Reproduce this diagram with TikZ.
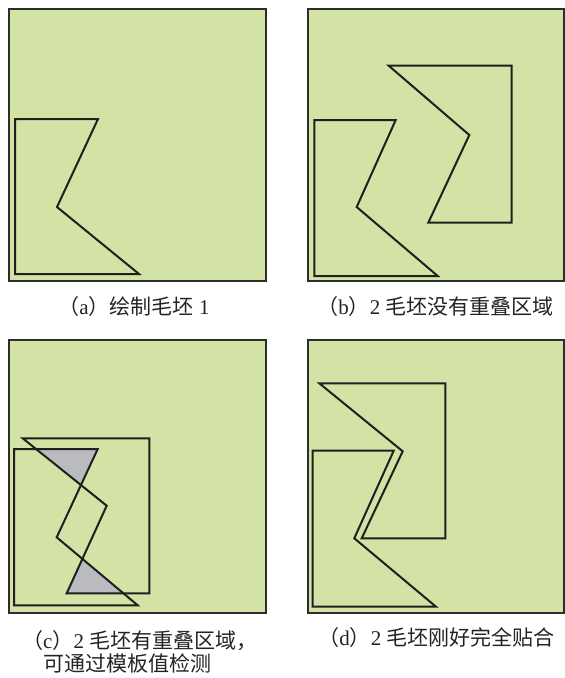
\documentclass[tikz,border=0pt]{standalone}
\usepackage{fontspec}
\setmainfont{Liberation Serif}
\newfontfamily\cjk{Noto Sans CJK SC}
\definecolor{panelgreen}{RGB}{211,227,165}
\definecolor{overlapgray}{RGB}{186,187,191}
\definecolor{frameline}{RGB}{45,45,45}
\definecolor{captiontext}{RGB}{35,35,35}
\tikzset{
  panel/.style={fill=panelgreen, draw=frameline, line width=2pt},
  blank/.style={draw=black!88, line width=2pt, line join=miter},
  caption/.style={text=captiontext, font=\fontsize{21}{25}\selectfont, inner sep=0pt},
}
\begin{document}
\begin{tikzpicture}[x=1pt,y=-1pt]
\useasboundingbox (0,0) rectangle (565,678);
% panel (a)
\draw[panel] (9,9) rectangle (265.5,281);
\draw[blank] (15,119) -- (98,119) -- (57,207) -- (139,274) -- (15,274) -- cycle;
\node[caption] (capa) at (134,307) {{\cjk （}a{\cjk ）绘制毛坯} 1};
% panel (b)
\draw[panel] (308,9) rectangle (564,281);
\draw[blank] (314.3,120) -- (395.7,120) -- (356.7,207) -- (437.7,276) -- (314.3,276) -- cycle;
\draw[blank] (388.7,65.7) -- (511.7,65.7) -- (511.7,222.7) -- (428.3,222.7) -- (469.3,135) -- cycle;
\node[caption] (capb) at (435.5,307) {{\cjk （}b{\cjk ）}2 {\cjk 毛坯没有重叠区域}};
% panel (c)
\draw[panel] (9,339.5) rectangle (265.5,612.5);
\begin{scope}
  \clip (14,449) -- (97.7,449) -- (56.7,537.3) -- (137.7,605.3) -- (14,605.3) -- cycle;
  \fill[overlapgray] (22.7,438.3) -- (149.3,438.3) -- (149.3,593.3) -- (66.7,593.3) -- (106.7,505.7) -- cycle;
\end{scope}
\draw[blank] (14,449) -- (97.7,449) -- (56.7,537.3) -- (137.7,605.3) -- (14,605.3) -- cycle;
\draw[blank] (22.7,438.3) -- (149.3,438.3) -- (149.3,593.3) -- (66.7,593.3) -- (106.7,505.7) -- cycle;
\node[caption, anchor=west] (capc1) at (22,641) {{\cjk （}c{\cjk ）}2 {\cjk 毛坯有重叠区域，}};
\node[caption, anchor=west] (capc2) at (43,663) {{\cjk 可通过模板值检测}};
% panel (d)
\draw[panel] (308,339.5) rectangle (564,612.5);
\draw[blank] (312.7,450.7) -- (393.7,450.7) -- (354.3,538.3) -- (436,606.7) -- (312.7,606.7) -- cycle;
\draw[blank] (319.3,383.3) -- (445.3,383.3) -- (445.3,538.3) -- (361.7,538.3) -- (402.7,451.3) -- cycle;
\node[caption] (capd) at (436.5,638) {{\cjk （}d{\cjk ）}2 {\cjk 毛坯刚好完全贴合}};
\end{tikzpicture}
\end{document}
